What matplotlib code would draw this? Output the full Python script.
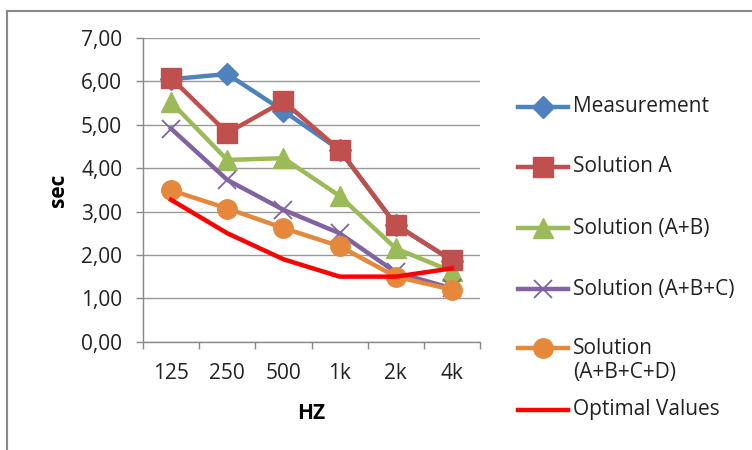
import matplotlib
matplotlib.use("Agg")
import matplotlib.pyplot as plt
from matplotlib.lines import Line2D
from matplotlib.ticker import FuncFormatter, FixedLocator

plt.rcParams['font.family'] = ['Open Sans', 'DejaVu Sans']

categories = ["125", "250", "500", "1k", "2k", "4k"]
measurement = [6.05, 6.17, 5.32, 4.42, 2.70, 1.87]
solution_a = [6.08, 4.81, 5.54, 4.42, 2.69, 1.88]
solution_ab = [5.52, 4.19, 4.23, 3.36, 2.15, 1.62]
solution_abc = [4.91, 3.73, 3.04, 2.50, 1.60, 1.23]
solution_abcd = [3.49, 3.07, 2.62, 2.20, 1.50, 1.20]
optimal = [3.27, 2.50, 1.90, 1.50, 1.50, 1.69]
series_names = ["Measurement", "Solution A", "Solution (A+B)", "Solution (A+B+C)",
                "Solution\n(A+B+C+D)", "Optimal Values"]
y_ticks = [0, 1, 2, 3, 4, 5, 6, 7]

styles = [
    dict(color='#4F81BD', marker='D', ms=11, zorder=3),
    dict(color='#C0504D', marker='s', ms=14, zorder=4),
    dict(color='#9BBB59', marker='^', ms=14, zorder=3),
    dict(color='#8064A2', marker='x', ms=13, mew=1.3, zorder=3),
    dict(color='#E5883C', marker='o', ms=14, zorder=3),
    dict(color='#FF0000', marker=None, zorder=5),
]
data = [measurement, solution_a, solution_ab, solution_abc, solution_abcd, optimal]

W, H = 752, 450
fig = plt.figure(figsize=(W / 100, H / 100), dpi=100)
ax = fig.add_axes([143 / W, 1 - 341.7 / H, 337 / W, (341.7 - 38) / H])

x = list(range(len(categories)))
for vals, name, st in zip(data, series_names, styles):
    ax.plot(x, vals, lw=3.2, label=name, **st)

ax.set_xlim(-0.5, len(categories) - 0.5)
ax.set_ylim(0, 7)
ax.set_yticks(y_ticks)
ax.yaxis.set_major_formatter(FuncFormatter(lambda v, p: f"{v:.2f}".replace('.', ',')))
ax.set_xticks(x)
ax.set_xticklabels(categories)
ax.xaxis.set_minor_locator(FixedLocator([i - 0.5 for i in range(len(categories) + 1)]))
ax.tick_params(axis='x', which='major', length=0, pad=15, labelsize=15, colors='#222222')
ax.tick_params(axis='x', which='minor', length=5, color='#888888', width=1)
ax.tick_params(axis='y', length=5, color='#888888', width=1, labelsize=15, pad=10,
               labelcolor='#222222')

ax.grid(axis='y', color='#999999', lw=1)
ax.set_axisbelow(True)
for s in ['top', 'right']:
    ax.spines[s].set_visible(False)
for s in ['left', 'bottom']:
    ax.spines[s].set_color('#888888')
    ax.spines[s].set_linewidth(1)

ax.set_xlabel('HZ', fontweight='bold', fontsize=15, labelpad=14)
ax.set_ylabel('sec', fontweight='bold', fontsize=15, labelpad=9)

# legend laid out like the original (handle + label per series)
leg_y = [106.5, 167, 228, 289, 348, 410]
for vals, name, st, yy in zip(data, series_names, styles, leg_y):
    yf = 1 - yy / H
    st2 = {k: v for k, v in st.items() if k != 'zorder'}
    fig.add_artist(Line2D([518 / W, 543 / W, 568 / W], [yf, yf, yf], lw=3.2,
                          transform=fig.transFigure,
                          markevery=[1] if st2.get('marker') else None, **st2))
    if '\n' in name:
        fig.text(573 / W, 1 - (yy + 12.5) / H, name, fontsize=15, va='center', ha='left',
                 color='#222222', linespacing=1.15)
    else:
        fig.text(573 / W, yf, name, fontsize=15, va='center', ha='left', color='#222222')

# outer chart frame (top and left edges visible)
fig.add_artist(Line2D([7 / W, 1.0], [1 - 11 / H, 1 - 11 / H], color='#888888', lw=1.5,
                      transform=fig.transFigure))
fig.add_artist(Line2D([7 / W, 7 / W], [0, 1 - 11 / H], color='#888888', lw=1.5,
                      transform=fig.transFigure))

fig.savefig('out.png', dpi=100)
